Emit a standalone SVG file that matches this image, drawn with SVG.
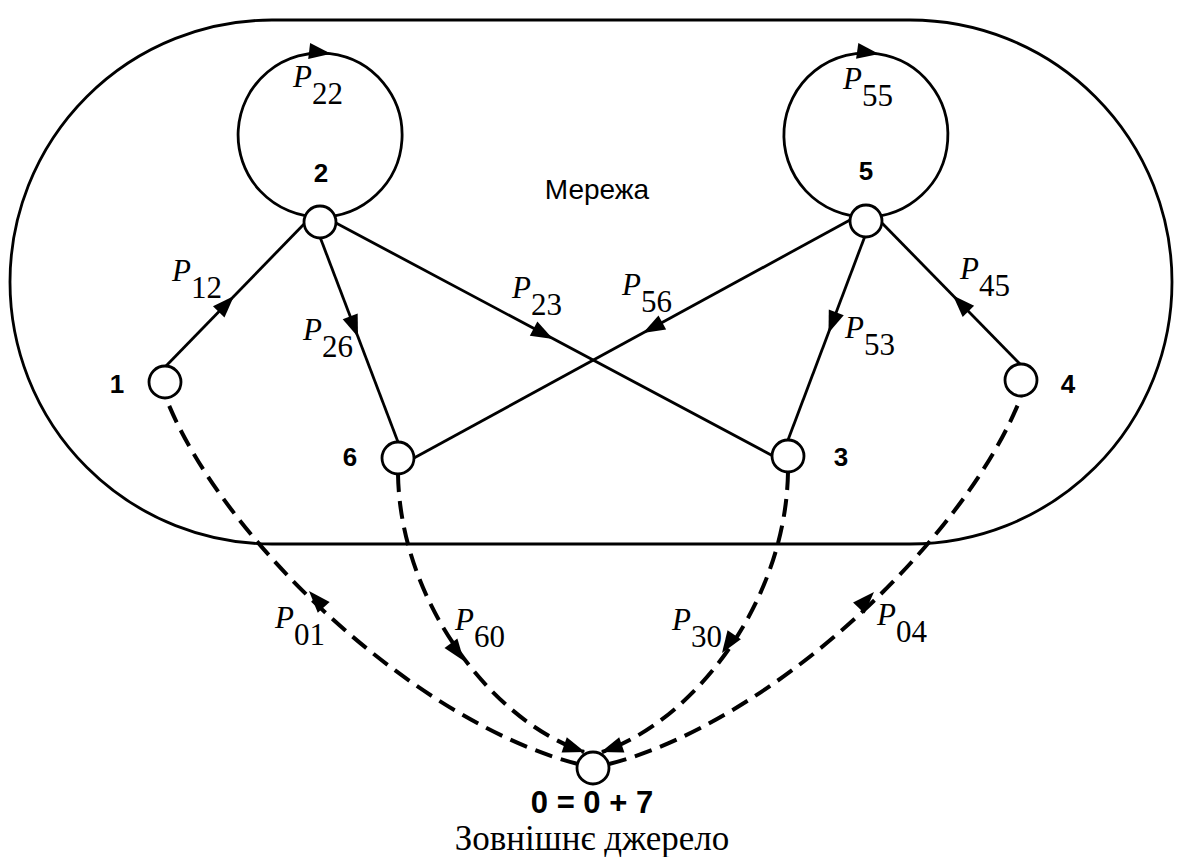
<svg xmlns="http://www.w3.org/2000/svg" xmlns:xlink="http://www.w3.org/1999/xlink" width="1184" height="857" viewBox="0 0 1184 857">
<style>
.solid{fill:none;stroke:#000;stroke-width:2.8}
.dash{fill:none;stroke:#000;stroke-width:4;stroke-dasharray:18 9}
.node{fill:#fff;stroke:#000;stroke-width:2.8}
.nl{font-family:"Liberation Sans",Arial,sans-serif;font-weight:bold;font-size:26px;text-anchor:middle}
.p{font-family:"Liberation Serif","Times New Roman",serif;font-size:31px}
.p .i{font-style:italic}
.t{font-family:"Liberation Sans",Arial,sans-serif;font-size:28px;text-anchor:middle}
.ts{font-family:"Liberation Serif","Times New Roman",serif;font-size:35px;text-anchor:middle}
</style>
<defs>
<path id="ah" d="M0,0 L-22,-8 L-22,8 Z" fill="#000"/>
</defs>
<rect width="1184" height="857" fill="#fff"/>
<g id="boundary">
<path class="solid" d="M272,20 H910 A262,262 0 0 1 910,544 H272 A262,262 0 0 1 272,20 Z"/>
<text class="t" x="597" y="199">Мережа</text>
</g>
<g id="connectors">
<path class="solid" d="M320,217 A82,82 0 1 1 330,53.6 A82,82 0 0 1 320,217"/>
<use xlink:href="#ah" transform="translate(331,53.7) rotate(7)"/>
<path class="solid" d="M866,217 A82,82 0 1 1 878,53.9 A82,82 0 0 1 866,217"/>
<use xlink:href="#ah" transform="translate(879,54) rotate(8)"/>
<path class="solid" d="M166,366 L306,222"/>
<use xlink:href="#ah" transform="translate(234,296) rotate(-46)"/>
<path class="solid" d="M320,237 L398,442"/>
<use xlink:href="#ah" transform="translate(358,337) rotate(69.2)"/>
<path class="solid" d="M336,223 L773,456"/>
<use xlink:href="#ah" transform="translate(553,339) rotate(28.1)"/>
<path class="solid" d="M850,220 L414,458"/>
<use xlink:href="#ah" transform="translate(643,333) rotate(151.4)"/>
<path class="solid" d="M865,236 L788,440"/>
<use xlink:href="#ah" transform="translate(828.5,333) rotate(110.7)"/>
<path class="solid" d="M1020,364 L880,221"/>
<use xlink:href="#ah" transform="translate(953,295.6) rotate(-134.4)"/>
<path class="dash" d="M578,764 C415,722 222,540 166,398"/>
<use xlink:href="#ah" transform="translate(309,591) rotate(-132)"/>
<path class="dash" d="M398,474 C400,600 490,720 584,752"/>
<use xlink:href="#ah" transform="translate(464,661) rotate(53.6)"/>
<use xlink:href="#ah" transform="translate(585,752) rotate(19)"/>
<path class="dash" d="M788,472 C786,600 696,720 602,752"/>
<use xlink:href="#ah" transform="translate(722,653) rotate(123.7)"/>
<use xlink:href="#ah" transform="translate(601,752) rotate(161)"/>
<path class="dash" d="M609,764 C772,722 965,540 1021,397"/>
<use xlink:href="#ah" transform="translate(874,592) rotate(-46.5)"/>
</g>
<g id="labels">
<text class="p" x="293" y="87"><tspan class="i">P</tspan><tspan dy="17">22</tspan></text>
<text class="p" x="843" y="89"><tspan class="i">P</tspan><tspan dy="17">55</tspan></text>
<text class="p" x="172" y="281"><tspan class="i">P</tspan><tspan dy="17">12</tspan></text>
<text class="p" x="303" y="340"><tspan class="i">P</tspan><tspan dy="17">26</tspan></text>
<text class="p" x="512" y="298"><tspan class="i">P</tspan><tspan dy="17">23</tspan></text>
<text class="p" x="622" y="295"><tspan class="i">P</tspan><tspan dy="17">56</tspan></text>
<text class="p" x="960" y="279"><tspan class="i">P</tspan><tspan dy="17">45</tspan></text>
<text class="p" x="845" y="338"><tspan class="i">P</tspan><tspan dy="17">53</tspan></text>
<text class="p" x="275" y="628"><tspan class="i">P</tspan><tspan dy="17">01</tspan></text>
<text class="p" x="455" y="630"><tspan class="i">P</tspan><tspan dy="17">60</tspan></text>
<text class="p" x="672" y="630"><tspan class="i">P</tspan><tspan dy="17">30</tspan></text>
<text class="p" x="877" y="625"><tspan class="i">P</tspan><tspan dy="17">04</tspan></text>
</g>
<g id="node1"><circle class="node" cx="165" cy="382" r="16"/><text class="nl" x="117" y="393">1</text></g>
<g id="node2"><circle class="node" cx="320" cy="222" r="16"/><text class="nl" x="321" y="182">2</text></g>
<g id="node3"><circle class="node" cx="788" cy="456" r="16"/><text class="nl" x="841" y="466">3</text></g>
<g id="node4"><circle class="node" cx="1021" cy="380" r="16"/><text class="nl" x="1068" y="393">4</text></g>
<g id="node5"><circle class="node" cx="866" cy="221" r="16"/><text class="nl" x="866" y="180">5</text></g>
<g id="node6"><circle class="node" cx="398" cy="458" r="16"/><text class="nl" x="350" y="466">6</text></g>
<g id="node0"><circle class="node" cx="593" cy="768" r="16"/><text class="nl" x="592" y="813" style="font-size:31px">0 = 0 + 7</text><text class="ts" x="592" y="850">Зовнішнє джерело</text></g>
</svg>
